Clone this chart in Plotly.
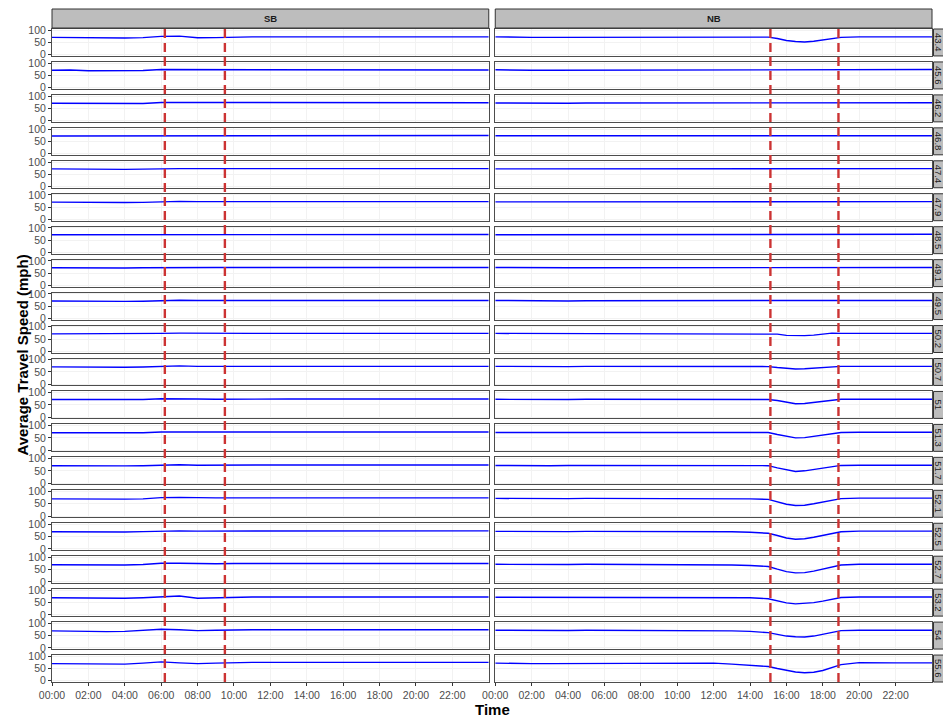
import plotly.graph_objects as go
from plotly.subplots import make_subplots

# ---------------- data ----------------
MILEPOSTS = ["43.4", "45.6", "46.2", "46.8", "47.4", "47.9", "48.5", "49.1", "49.5", "50.2",
             "50.7", "51", "51.3", "51.7", "52.1", "52.5", "52.7", "53.2", "54", "55.6"]
DIRECTIONS = ["SB", "NB"]

TICK_HOURS = [0, 2, 4, 6, 8, 10, 12, 14, 16, 18, 20, 22]
TICK_LABELS = ["00:00", "02:00", "04:00", "06:00", "08:00", "10:00",
               "12:00", "14:00", "16:00", "18:00", "20:00", "22:00"]
Y_TICKS = [0, 50, 100]

# peak-period markers (hours)
SB_PEAK = [6.2, 9.5]
NB_PEAK = [15.12, 18.86]

# SB speeds sampled at each hour
SB_HOURS = [0, 1, 2, 3, 4, 5, 6, 7, 8, 9, 10, 11, 12, 13, 14, 15, 16, 17, 18, 19, 20, 21, 22, 23, 24]
SB_43_4 = [71, 70, 68, 68, 68, 70, 75, 76, 69, 70, 73, 73, 73, 73, 73, 73, 73, 73, 73, 73, 73, 73, 73, 73, 73]
SB_45_6 = [71, 72, 69, 69, 69, 70, 74, 74, 72, 73, 72, 73, 73, 73, 73, 72, 72, 73, 73, 73, 73, 72, 72, 73, 72]
SB_46_2 = [71, 71, 70, 69, 69, 70, 74, 74, 72, 73, 73, 73, 73, 73, 73, 73, 73, 73, 73, 73, 73, 73, 73, 73, 73]
SB_46_8 = [72, 72, 71, 71, 71, 72, 74, 74, 74, 74, 74, 74, 74, 74, 74, 74, 74, 74, 74, 74, 74, 74, 74, 74, 74]
SB_47_4 = [72, 71, 70, 70, 70, 71, 73, 73, 73, 73, 73, 73, 73, 73, 73, 73, 73, 73, 73, 73, 73, 73, 73, 73, 73]
SB_47_9 = [71, 70, 69, 69, 69, 70, 73, 74, 73, 73, 73, 73, 73, 73, 73, 73, 73, 73, 73, 73, 73, 73, 73, 73, 73]
SB_48_5 = [72, 72, 71, 71, 71, 72, 73, 73, 72, 72, 72, 73, 73, 73, 73, 73, 73, 73, 73, 73, 73, 73, 73, 73, 73]
SB_49_1 = [72, 71, 71, 71, 71, 72, 73, 74, 72, 73, 73, 73, 73, 73, 73, 73, 73, 73, 74, 73, 73, 73, 73, 73, 73]
SB_49_5 = [71, 70, 69, 69, 69, 70, 73, 74, 73, 73, 73, 73, 73, 73, 73, 73, 73, 73, 73, 73, 73, 73, 73, 73, 73]
SB_50_2 = [71, 71, 70, 70, 70, 71, 73, 74, 73, 73, 73, 73, 73, 73, 73, 73, 73, 73, 73, 73, 73, 73, 73, 73, 73]
SB_50_7 = [71, 70, 69, 69, 69, 70, 74, 75, 73, 73, 73, 73, 73, 73, 73, 73, 73, 73, 73, 73, 73, 73, 73, 73, 73]
SB_51 = [72, 72, 71, 71, 71, 72, 75, 76, 74, 73, 74, 74, 74, 74, 74, 74, 74, 74, 74, 74, 74, 74, 74, 74, 74]
SB_51_3 = [71, 71, 70, 70, 70, 71, 74, 74, 73, 73, 74, 74, 74, 74, 74, 74, 74, 74, 74, 74, 74, 74, 74, 74, 74]
SB_51_7 = [71, 70, 70, 70, 70, 71, 74, 75, 73, 74, 74, 74, 74, 74, 74, 74, 74, 74, 74, 74, 74, 74, 74, 74, 74]
SB_52_1 = [70, 69, 68, 68, 69, 70, 75, 76, 74, 74, 74, 74, 74, 74, 74, 74, 74, 74, 74, 74, 74, 74, 74, 74, 74]
SB_52_5 = [70, 69, 68, 68, 69, 71, 74, 74, 73, 73, 74, 74, 74, 74, 74, 74, 74, 74, 75, 76, 76, 76, 75, 74, 74]
SB_52_7 = [70, 69, 68, 68, 69, 71, 76, 76, 74, 74, 75, 75, 75, 75, 75, 75, 75, 75, 75, 75, 75, 75, 75, 75, 75]
SB_53_2 = [70, 69, 68, 68, 68, 70, 74, 77, 68, 70, 73, 73, 73, 73, 73, 73, 73, 73, 73, 73, 73, 73, 73, 73, 73]
SB_54 = [69, 67, 66, 66, 67, 70, 76, 74, 70, 72, 74, 74, 74, 74, 74, 74, 74, 74, 74, 74, 74, 74, 74, 74, 74]
SB_55_6 = [70, 70, 67, 68, 68, 72, 77, 73, 70, 72, 75, 75, 75, 75, 75, 75, 75, 75, 75, 75, 75, 75, 75, 75, 75]

# NB speeds, sampled hourly with half-hours through the evening peak
NB_HOURS = [0, 1, 2, 3, 4, 5, 6, 7, 8, 9, 10, 11, 12, 13, 14,
            15, 15.5, 16, 16.5, 17, 17.5, 18, 18.5, 19, 20, 21, 22, 23, 24]
NB_43_4 = [73, 71, 71, 71, 71, 72, 72, 72, 72, 72, 72, 72, 72, 72, 72, 72, 66, 58, 54, 52, 55, 60, 66, 71, 73, 73, 73, 73, 73]
NB_45_6 = [73, 71, 71, 71, 71, 71, 72, 73, 73, 73, 73, 73, 73, 73, 73, 74, 74, 74, 74, 74, 74, 74, 74, 74, 74, 74, 73, 74, 74]
NB_46_2 = [72, 71, 71, 71, 71, 72, 72, 72, 72, 72, 72, 72, 72, 72, 72, 74, 73, 73, 73, 73, 73, 73, 73, 73, 73, 73, 72, 72, 73]
NB_46_8 = [73, 73, 72, 72, 72, 72, 73, 73, 73, 73, 73, 73, 73, 73, 73, 73, 73, 73, 73, 73, 73, 73, 73, 73, 73, 73, 73, 73, 73]
NB_47_4 = [72, 72, 71, 71, 71, 72, 72, 72, 72, 72, 72, 72, 72, 72, 72, 72, 72, 72, 72, 72, 72, 72, 72, 74, 73, 73, 73, 73, 73]
NB_47_9 = [72, 72, 71, 71, 71, 72, 72, 72, 72, 72, 72, 72, 72, 72, 72, 73, 73, 73, 73, 73, 73, 73, 73, 73, 73, 73, 73, 73, 73]
NB_48_5 = [72, 72, 71, 71, 72, 72, 72, 72, 72, 72, 72, 72, 72, 72, 72, 72, 72, 72, 72, 72, 72, 72, 72, 72, 72, 72, 73, 74, 74]
NB_49_1 = [73, 72, 72, 72, 72, 72, 72, 72, 73, 73, 73, 73, 73, 73, 73, 73, 73, 73, 73, 73, 73, 73, 73, 73, 73, 73, 73, 73, 73]
NB_49_5 = [73, 72, 71, 71, 71, 72, 72, 72, 72, 72, 72, 72, 72, 72, 72, 73, 73, 73, 73, 73, 73, 73, 73, 73, 73, 73, 73, 73, 73]
NB_50_2 = [73, 73, 72, 72, 72, 73, 73, 73, 73, 73, 73, 73, 73, 73, 73, 73, 70, 65, 64, 64, 66, 70, 74, 73, 73, 73, 73, 73, 73]
NB_50_7 = [73, 72, 72, 72, 72, 73, 73, 73, 73, 73, 73, 73, 72, 72, 72, 72, 68, 64, 62, 63, 66, 69, 72, 73, 73, 73, 73, 73, 73]
NB_51 = [73, 72, 72, 72, 72, 73, 73, 73, 73, 73, 72, 72, 72, 72, 72, 72, 68, 60, 55, 56, 60, 65, 70, 73, 73, 73, 73, 73, 73]
NB_51_3 = [72, 72, 71, 71, 72, 72, 72, 72, 72, 72, 72, 72, 71, 71, 72, 72, 64, 56, 50, 51, 56, 62, 68, 72, 73, 73, 73, 73, 73]
NB_51_7 = [72, 71, 71, 71, 72, 72, 73, 73, 73, 73, 72, 72, 72, 72, 72, 71, 62, 53, 47, 50, 55, 61, 67, 72, 73, 73, 73, 73, 73]
NB_52_1 = [72, 71, 71, 71, 71, 72, 72, 73, 73, 72, 72, 72, 72, 71, 70, 68, 58, 48, 43, 44, 50, 57, 64, 71, 73, 73, 73, 73, 73]
NB_52_5 = [72, 71, 71, 71, 71, 72, 72, 73, 73, 73, 73, 72, 72, 70, 68, 64, 55, 45, 40, 42, 48, 55, 63, 70, 73, 73, 73, 73, 73]
NB_52_7 = [72, 71, 71, 71, 71, 72, 72, 72, 72, 72, 72, 71, 71, 69, 67, 63, 52, 42, 37, 38, 44, 52, 61, 69, 72, 72, 72, 72, 72]
NB_53_2 = [72, 72, 71, 71, 72, 72, 72, 72, 72, 72, 72, 72, 72, 72, 70, 66, 57, 49, 45, 46, 50, 56, 63, 71, 73, 73, 73, 73, 73]
NB_54 = [72, 71, 71, 71, 71, 72, 72, 72, 72, 72, 72, 72, 70, 69, 67, 62, 55, 48, 45, 44, 48, 55, 63, 70, 72, 72, 72, 72, 72]
NB_55_6 = [72, 70, 70, 70, 70, 71, 72, 72, 72, 72, 72, 72, 72, 68, 64, 58, 50, 42, 36, 33, 35, 42, 55, 66, 74, 75, 73, 73, 73]

SB_SERIES = [SB_43_4, SB_45_6, SB_46_2, SB_46_8, SB_47_4, SB_47_9, SB_48_5, SB_49_1, SB_49_5, SB_50_2,
             SB_50_7, SB_51, SB_51_3, SB_51_7, SB_52_1, SB_52_5, SB_52_7, SB_53_2, SB_54, SB_55_6]
NB_SERIES = [NB_43_4, NB_45_6, NB_46_2, NB_46_8, NB_47_4, NB_47_9, NB_48_5, NB_49_1, NB_49_5, NB_50_2,
             NB_50_7, NB_51, NB_51_3, NB_51_7, NB_52_1, NB_52_5, NB_52_7, NB_53_2, NB_54, NB_55_6]

# ---------------- layout constants ----------------
W, H = 943, 719
ML, MR, MT, MB = 52, 11, 29, 37
PW, PH = W - ML - MR, H - MT - MB
NROW = len(MILEPOSTS)
HSP = 6.5 / PW
VSP = 6.0 / PH

FONT = "Liberation Sans, Arial, sans-serif"
BLUE = "#0000ff"
RED = "#cc3333"
BORDER = "#4d4d4d"
GRID = "#f2f2f2"
STRIP = "#bdbdbd"
TICKC = "#4d4d4d"

fig = make_subplots(rows=NROW, cols=2, horizontal_spacing=HSP, vertical_spacing=VSP)

for r in range(NROW):
    for c, (hours, series) in enumerate([(SB_HOURS, SB_SERIES), (NB_HOURS, NB_SERIES)]):
        fig.add_trace(go.Scatter(x=hours, y=series[r], mode="lines",
                                 line=dict(color=BLUE, width=1.4),
                                 hoverinfo="skip", showlegend=False),
                      row=r + 1, col=c + 1)

for r in range(NROW):
    for c in range(2):
        bottom = (r == NROW - 1)
        fig.update_xaxes(row=r + 1, col=c + 1, range=[0, 24],
                         tickvals=TICK_HOURS, ticktext=TICK_LABELS,
                         showticklabels=bottom,
                         ticks="outside" if bottom else "", ticklen=3, tickcolor="#333333",
                         tickfont=dict(family=FONT, size=10.5, color=TICKC),
                         showgrid=True, gridcolor=GRID, gridwidth=1,
                         showline=True, linecolor=BORDER, linewidth=1, mirror=True,
                         zeroline=False, fixedrange=True)
        fig.update_yaxes(row=r + 1, col=c + 1, range=[-5, 105],
                         tickvals=Y_TICKS, showticklabels=(c == 0),
                         ticks="outside" if c == 0 else "", ticklen=3, tickcolor="#333333",
                         tickfont=dict(family=FONT, size=10.5, color=TICKC),
                         showgrid=True, gridcolor=GRID, gridwidth=1,
                         showline=True, linecolor=BORDER, linewidth=1, mirror=True,
                         zeroline=False, fixedrange=True)

shapes = []
annotations = []

# peak-period dashed lines spanning each column
for axname, peaks in (("x", SB_PEAK), ("x2", NB_PEAK)):
    for p in peaks:
        shapes.append(dict(type="line", xref=axname, yref="paper", x0=p, x1=p, y0=0, y1=1,
                           line=dict(color=RED, width=2.4, dash="9px,5px"), layer="above"))

# top strips
strip_y0 = 1 + 1.0 / PH
strip_y1 = 1 + 20.0 / PH
for c, lab in enumerate(DIRECTIONS):
    dom = fig.layout["xaxis" if c == 0 else "xaxis2"].domain
    shapes.append(dict(type="rect", xref="paper", yref="paper", x0=dom[0], x1=dom[1],
                       y0=strip_y0, y1=strip_y1, fillcolor=STRIP,
                       line=dict(color="#333333", width=1), layer="above"))
    annotations.append(dict(xref="paper", yref="paper", x=(dom[0] + dom[1]) / 2,
                            y=(strip_y0 + strip_y1) / 2, text="<b>" + lab + "</b>", showarrow=False,
                            font=dict(family=FONT, size=9.5, color="#1a1a1a"),
                            xanchor="center", yanchor="middle"))

# right strips
sx0 = 1 + 1.5 / PW
sx1 = 1 + 20.0 / PW
for r, lab in enumerate(MILEPOSTS):
    idx = 2 * r + 2
    dom = fig.layout["yaxis%d" % idx].domain
    shapes.append(dict(type="rect", xref="paper", yref="paper", x0=sx0, x1=sx1,
                       y0=dom[0], y1=dom[1], fillcolor=STRIP,
                       line=dict(color="#333333", width=1), layer="above"))
    annotations.append(dict(xref="paper", yref="paper", x=1 + 6.5 / PW,
                            y=(dom[0] + dom[1]) / 2, text=lab, showarrow=False, textangle=90,
                            font=dict(family=FONT, size=9.5, color="#1a1a1a"),
                            xanchor="center", yanchor="middle"))

# axis titles
annotations.append(dict(xref="paper", yref="paper", x=0.5, y=-27.0 / PH, text="<b>Time</b>",
                        showarrow=False, font=dict(family=FONT, size=15, color="#000000"),
                        xanchor="center", yanchor="middle"))
annotations.append(dict(xref="paper", yref="paper", x=-30.0 / PW, y=0.5,
                        text="<b>Average Travel Speed (mph)</b>", showarrow=False, textangle=-90,
                        font=dict(family=FONT, size=15, color="#000000"),
                        xanchor="center", yanchor="middle"))

fig.update_layout(width=W, height=H, margin=dict(l=ML, r=MR, t=MT, b=MB, autoexpand=False),
                  paper_bgcolor="white", plot_bgcolor="white",
                  shapes=shapes, annotations=annotations, showlegend=False)

fig.write_html("out.html", config={"displayModeBar": False},
               post_script="document.body.style.margin='0px';")
